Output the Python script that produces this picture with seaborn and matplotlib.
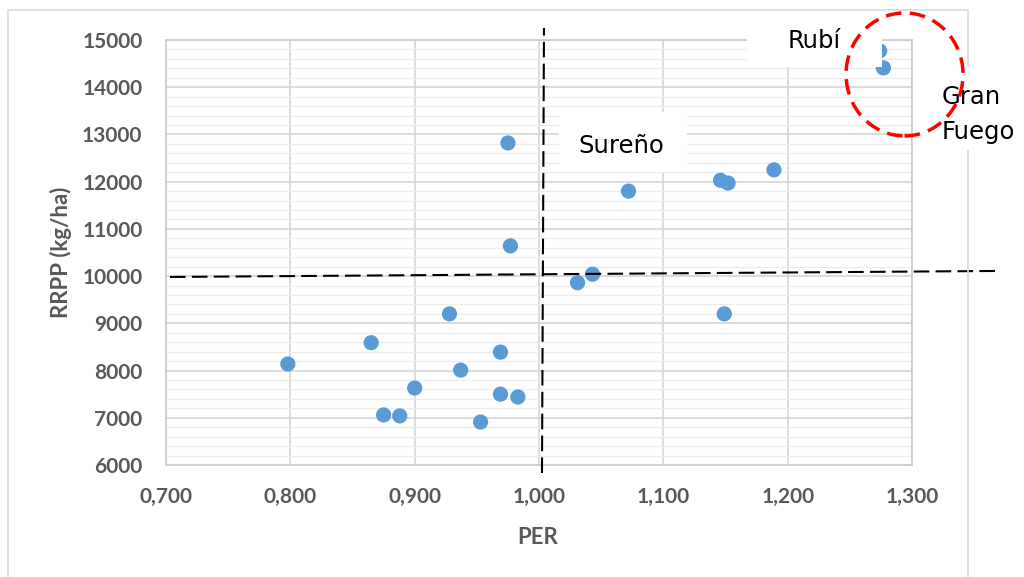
import matplotlib
matplotlib.use("Agg")
import matplotlib.pyplot as plt
from matplotlib.patches import Rectangle, Ellipse
from matplotlib.ticker import MultipleLocator, FixedLocator, FixedFormatter
import seaborn as sns
import pandas as pd

# ---------------- data ----------------
per = [0.798, 0.865, 0.875, 0.888, 0.900, 0.928, 0.937, 0.953, 0.969, 0.969,
       0.983, 0.975, 0.977, 1.031, 1.043, 1.072, 1.146, 1.152, 1.189, 1.149,
       1.274, 1.277]
rrpp = [8140, 8590, 7060, 7040, 7630, 9200, 8010, 6910, 8390, 7500,
        7440, 12820, 10640, 9860, 10040, 11800, 12030, 11970, 12250, 9200,
        14770, 14410]

x_ticks = [0.7, 0.8, 0.9, 1.0, 1.1, 1.2, 1.3]
x_tick_labels = ["0,700", "0,800", "0,900", "1,000", "1,100", "1,200", "1,300"]
y_ticks = [6000, 7000, 8000, 9000, 10000, 11000, 12000, 13000, 14000, 15000]
y_tick_labels = [str(v) for v in y_ticks]

# hand-drawn reference lines (data coordinates of their ends)
vline_x = [1.0024, 1.0040]
vline_y = [5830, 15255]
hline_x = [0.7032, 1.3668]
hline_y = [9982, 10109]

# highlight circle (data coords: centre, width, height)
circle_center = (1.294, 14271)
circle_w, circle_h = 0.0941, 2605

labels_text = ["Rubí", "Sureño", "Gran\nFuego"]

df = pd.DataFrame({"PER": per, "RRPP": rrpp})

# ---------------- figure ----------------
sns.set_style("white")
plt.rcParams["font.family"] = ["Lato", "DejaVu Sans"]

W, H = 1024, 577
fig = plt.figure(figsize=(W / 100, H / 100), dpi=100)
ax = fig.add_axes([166 / W, (H - 465) / H, 746 / W, 425 / H])

def fx(px):
    return px / W

def fy(py):
    return 1 - py / H

# outer chart border
fig.patches.append(Rectangle((fx(8), -0.05), fx(968) - fx(8), fy(10) + 0.05,
                             transform=fig.transFigure, fill=False,
                             edgecolor="#d9d9d9", lw=1.2, zorder=1))

sns.scatterplot(data=df, x="PER", y="RRPP", ax=ax, color="#5B9BD5",
                s=120, edgecolor="none", zorder=3, legend=False)

ax.set_xlim(0.7, 1.3)
ax.set_ylim(6000, 15000)
ax.xaxis.set_major_locator(FixedLocator(x_ticks))
ax.xaxis.set_major_formatter(FixedFormatter(x_tick_labels))
ax.yaxis.set_major_locator(FixedLocator(y_ticks))
ax.yaxis.set_major_formatter(FixedFormatter(y_tick_labels))
ax.yaxis.set_minor_locator(MultipleLocator(200))

ax.grid(True, which="major", color="#d6d6d6", lw=1.2, zorder=0)
ax.grid(True, which="minor", axis="y", color="#ececec", lw=0.9, zorder=0)
ax.set_axisbelow(True)
for s in ax.spines.values():
    s.set_color("#cccccc")
    s.set_linewidth(1.2)

ax.tick_params(axis="both", which="both", length=0, colors="#595959")
for lab in ax.get_xticklabels() + ax.get_yticklabels():
    lab.set_fontweight("bold")
    lab.set_fontsize(15)
    lab.set_color("#595959")
ax.tick_params(axis="y", pad=17)
ax.tick_params(axis="x", pad=16)

ax.set_xlabel("PER", fontsize=16, fontweight="bold", color="#595959")
ax.set_ylabel("RRPP (kg/ha)", fontsize=16, fontweight="bold", color="#595959")
ax.xaxis.set_label_coords((538 - 166) / 746, (465 - 537) / 425)
ax.xaxis.label.set_va("center")
ax.yaxis.set_label_coords((61 - 166) / 746, 0.5)
ax.yaxis.label.set_va("center")

# dashed reference lines
ax.plot(vline_x, vline_y, color="black", lw=1.5, ls=(0, (7.5, 3)),
        clip_on=False, zorder=4)
ax.plot(hline_x, hline_y, color="black", lw=1.5, ls=(0, (7.5, 3)),
        clip_on=False, zorder=4)

# white label boxes
boxes = [(747, 18, 882, 67), (559, 112, 687, 172), (936, 67, 1030, 150)]
for (x0, y0, x1, y1) in boxes:
    fig.patches.append(Rectangle((fx(x0), fy(y1)), fx(x1) - fx(x0), fy(y0) - fy(y1),
                                 transform=fig.transFigure, facecolor="white",
                                 edgecolor="none", zorder=2))

txt_kw = dict(fontsize=17.5, color="black", family=["DejaVu Sans"], zorder=3,
              ha="left", va="baseline")
fig.text(fx(788), fy(48), labels_text[0], **txt_kw)
fig.text(fx(578), fy(153), labels_text[1], **txt_kw)
fig.text(fx(942), fy(104), labels_text[2].split("\n")[0], **txt_kw)
fig.text(fx(942), fy(139), labels_text[2].split("\n")[1], **txt_kw)

# red dashed circle, drawn on top of the label boxes
circ = Ellipse(circle_center, circle_w, circle_h, fill=False, edgecolor="#FF0000",
               lw=2.5, ls=(0, (4.5, 2.4)), transform=ax.transData, zorder=6)
fig.patches.append(circ)

fig.savefig("out.png", dpi=100, facecolor="white")
